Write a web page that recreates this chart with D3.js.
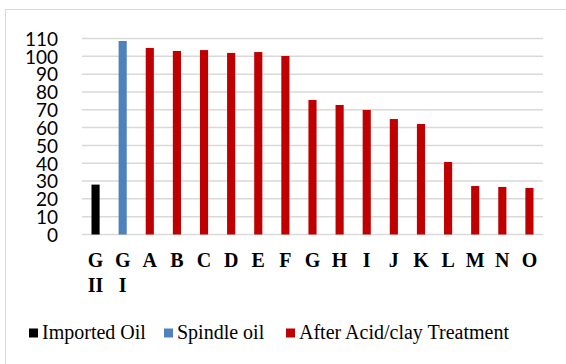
<!DOCTYPE html>
<html>
<head>
<script src="https://d3js.org/d3.v7.min.js"></script>
<style>
  body { margin: 0; background: #fff; }
</style>
</head>
<body>
<script>
var w = 566, h = 364;

// data
var categories = ['GII', 'GI', 'A', 'B', 'C', 'D', 'E', 'F', 'G', 'H', 'I', 'J', 'K', 'L', 'M', 'N', 'O'];
var labelLines = [['G', 'II'], ['G', 'I'], ['A'], ['B'], ['C'], ['D'], ['E'], ['F'], ['G'], ['H'], ['I'], ['J'], ['K'], ['L'], ['M'], ['N'], ['O']];
var values = [28, 108.6, 104.7, 103, 103.5, 101.9, 102.4, 100.2, 75.5, 72.7, 69.9, 64.8, 62, 40.7, 27.2, 26.7, 26.1];
var groups = ['imported', 'spindle', 'treated', 'treated', 'treated', 'treated', 'treated', 'treated', 'treated', 'treated', 'treated', 'treated', 'treated', 'treated', 'treated', 'treated', 'treated'];
var seriesNames = ['Imported Oil', 'Spindle oil', 'After Acid/clay Treatment'];
var seriesKeys = ['imported', 'spindle', 'treated'];
var yTicks = [0, 10, 20, 30, 40, 50, 60, 70, 80, 90, 100, 110];

var color = d3.scaleOrdinal()
    .domain(seriesKeys)
    .range(['#000000', '#4f81bd', '#c00000']);

var svg = d3.select('body')
    .append('svg')
    .attr('width', w)
    .attr('height', h);

// outer chart border
svg.append('rect')
    .attr('x', 5.5)
    .attr('y', 9.5)
    .attr('width', w - 5)
    .attr('height', h - 8)
    .attr('fill', 'none')
    .attr('stroke', '#d9d9d9')
    .attr('stroke-width', 1);

var xScale = d3.scaleBand()
    .domain(categories)
    .range([82, 543])
    .paddingInner(0.7)
    .paddingOuter(0.35);

var yScale = d3.scaleLinear()
    .domain([0, 110])
    .range([234.5, 38.5]);

// gridlines
svg.append('g')
    .selectAll('line')
    .data(yTicks)
    .enter()
    .append('line')
    .attr('x1', 82)
    .attr('x2', 543)
    .attr('y1', function(d) { return yScale(d); })
    .attr('y2', function(d) { return yScale(d); })
    .attr('stroke', '#d9d9d9')
    .attr('stroke-width', 1.5);

// y axis labels
var yAxis = d3.axisLeft(yScale)
    .tickValues(yTicks)
    .tickSize(0)
    .tickPadding(0);

var gy = svg.append('g')
    .attr('transform', 'translate(58,0)')
    .call(yAxis);
gy.select('.domain').remove();
gy.selectAll('text')
    .attr('font-family', 'Lato, "Open Sans", sans-serif')
    .attr('font-size', '19px')
    .attr('fill', '#000')
    .attr('dy', '0.36em');

// bars
svg.append('g')
    .selectAll('rect')
    .data(values)
    .enter()
    .append('rect')
    .attr('x', function(d, i) { return xScale(categories[i]); })
    .attr('y', function(d) { return yScale(d); })
    .attr('width', xScale.bandwidth())
    .attr('height', function(d) { return yScale(0) - yScale(d); })
    .attr('fill', function(d, i) { return color(groups[i]); });

// x labels
var xl = svg.append('g')
    .selectAll('text')
    .data(categories)
    .enter()
    .append('text')
    .attr('x', function(d) { return xScale(d) + xScale.bandwidth() / 2; })
    .attr('y', 267)
    .attr('text-anchor', 'middle')
    .attr('font-family', '"Liberation Serif", "Times New Roman", serif')
    .attr('font-weight', 'bold')
    .attr('font-size', '20px')
    .attr('fill', '#000');
xl.each(function(d, i) {
    var t = d3.select(this);
    labelLines[i].forEach(function(s, j) {
        t.append('tspan')
            .attr('x', t.attr('x'))
            .attr('dy', j === 0 ? 0 : 25)
            .text(s);
    });
});

// legend
var legendX = [29, 164, 286];
var lg = svg.append('g')
    .selectAll('g')
    .data(seriesNames)
    .enter()
    .append('g')
    .attr('transform', function(d, i) { return 'translate(' + legendX[i] + ',333)'; });
lg.append('rect')
    .attr('x', 0)
    .attr('y', -4.5)
    .attr('width', 9)
    .attr('height', 9)
    .attr('fill', function(d, i) { return color(seriesKeys[i]); });
lg.append('text')
    .attr('x', 13)
    .attr('y', 6)
    .attr('font-family', '"Liberation Serif", "Times New Roman", serif')
    .attr('font-size', '20px')
    .attr('fill', '#000')
    .text(function(d) { return d; });
</script>
</body>
</html>
